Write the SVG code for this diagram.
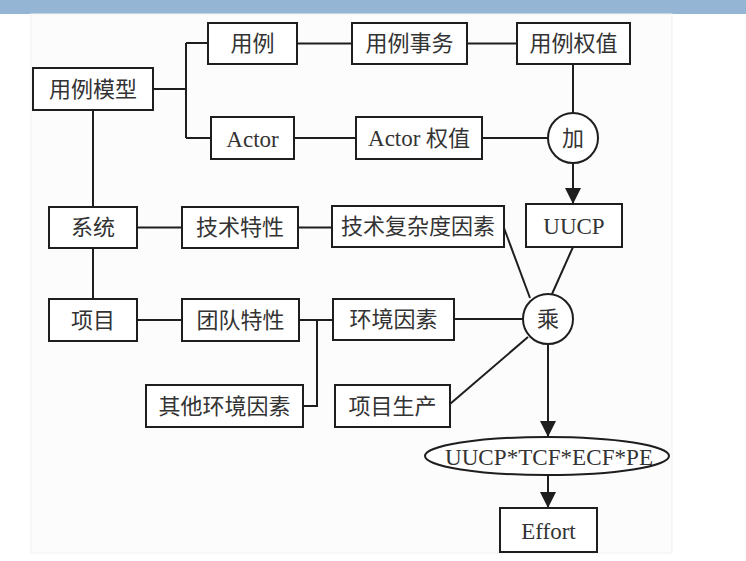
<svg xmlns="http://www.w3.org/2000/svg" width="746" height="561" viewBox="0 0 746 561">
  <style>
    .box { fill: #ffffff; stroke: #1e1e1e; stroke-width: 2; }
    .ring { fill: #ffffff; stroke: #1e1e1e; stroke-width: 2; }
    .wire { fill: none; stroke: #1e1e1e; stroke-width: 2; }
    .lbl { font-family: "Liberation Serif", "Noto Sans CJK SC", serif; font-size: 22px; fill: #333333; text-anchor: middle; dominant-baseline: central; }
    .latin { font-size: 23px; }
  </style>
  <defs>
    <marker id="arrow" viewBox="0 0 16 16" refX="16" refY="8" markerWidth="16" markerHeight="16" markerUnits="userSpaceOnUse" orient="auto">
      <path d="M0,0 L16,8 L0,16 Z" fill="#1e1e1e"/>
    </marker>
  </defs>

  <!-- page background -->
  <rect x="0" y="0" width="746" height="561" fill="#ffffff"/>
  <rect x="0" y="0" width="746" height="14" fill="#94b6d4"/>
  <rect x="31" y="14" width="641" height="539" fill="#fcfcfc" stroke="#f1f1f1" stroke-width="1"/>

  <!-- connectors -->
  <g id="connectors">
    <path class="wire" d="M153,89 H186 M186,43 V138 M186,43 H208 M186,138 H211"/>
    <path class="wire" d="M297,43.5 H352"/>
    <path class="wire" d="M467,43.5 H517"/>
    <path class="wire" d="M573,64 V113"/>
    <path class="wire" d="M294,138 H356"/>
    <path class="wire" d="M482,138 H548"/>
    <path class="wire" d="M573,163 V204" marker-end="url(#arrow)"/>
    <path class="wire" d="M93,110 V207"/>
    <path class="wire" d="M93,248 V299"/>
    <path class="wire" d="M137,227.5 H182"/>
    <path class="wire" d="M298,227.5 H332"/>
    <path class="wire" d="M504,228 L530,298"/>
    <path class="wire" d="M573,247 L552,294"/>
    <path class="wire" d="M137,320 H182"/>
    <path class="wire" d="M299,320 H333 M317,320 V406 H303"/>
    <path class="wire" d="M454,319 H523"/>
    <path class="wire" d="M450,404 L528,337"/>
    <path class="wire" d="M548,344 V437" marker-end="url(#arrow)"/>
    <path class="wire" d="M548,475 V508" marker-end="url(#arrow)"/>
  </g>

  <!-- nodes -->
  <g id="use-case-model">
    <rect class="box" x="33" y="68" width="120" height="42"/>
    <text class="lbl" x="93" y="89">用例模型</text>
  </g>
  <g id="use-case">
    <rect class="box" x="208" y="23" width="89" height="41"/>
    <text class="lbl" x="252.5" y="43.5">用例</text>
  </g>
  <g id="use-case-transaction">
    <rect class="box" x="352" y="23" width="115" height="41"/>
    <text class="lbl" x="409.5" y="43.5">用例事务</text>
  </g>
  <g id="use-case-weight">
    <rect class="box" x="517" y="23" width="113" height="41"/>
    <text class="lbl" x="573.5" y="43.5">用例权值</text>
  </g>
  <g id="actor">
    <rect class="box" x="211" y="117" width="83" height="42"/>
    <text class="lbl latin" x="252.5" y="139">Actor</text>
  </g>
  <g id="actor-weight">
    <rect class="box" x="356" y="117" width="126" height="42"/>
    <text class="lbl" x="419" y="138"><tspan class="latin">Actor</tspan> 权值</text>
  </g>
  <g id="add">
    <circle class="ring" cx="573" cy="138" r="25"/>
    <text class="lbl" x="573" y="138">加</text>
  </g>
  <g id="uucp">
    <rect class="box" x="526" y="204" width="96" height="43"/>
    <text class="lbl latin" x="574" y="226.5">UUCP</text>
  </g>
  <g id="system">
    <rect class="box" x="49" y="207" width="88" height="41"/>
    <text class="lbl" x="93" y="227.5">系统</text>
  </g>
  <g id="tech-traits">
    <rect class="box" x="182" y="207" width="116" height="41"/>
    <text class="lbl" x="240" y="227.5">技术特性</text>
  </g>
  <g id="tech-complexity">
    <rect class="box" x="332" y="206" width="172" height="41"/>
    <text class="lbl" x="418" y="226.5">技术复杂度因素</text>
  </g>
  <g id="project">
    <rect class="box" x="49" y="299" width="88" height="42"/>
    <text class="lbl" x="93" y="320">项目</text>
  </g>
  <g id="team-traits">
    <rect class="box" x="182" y="299" width="117" height="42"/>
    <text class="lbl" x="240.5" y="320">团队特性</text>
  </g>
  <g id="env-factors">
    <rect class="box" x="333" y="299" width="121" height="41"/>
    <text class="lbl" x="393.5" y="319.5">环境因素</text>
  </g>
  <g id="other-env-factors">
    <rect class="box" x="146" y="385" width="157" height="42"/>
    <text class="lbl" x="224.5" y="406">其他环境因素</text>
  </g>
  <g id="productivity">
    <rect class="box" x="335" y="385" width="115" height="42"/>
    <text class="lbl" x="392.5" y="406">项目生产</text>
  </g>
  <g id="multiply">
    <circle class="ring" cx="548" cy="319" r="25"/>
    <text class="lbl" x="548" y="319">乘</text>
  </g>
  <g id="formula">
    <ellipse class="ring" cx="547" cy="456" rx="122" ry="19"/>
    <text class="lbl latin" x="549" y="457" textLength="208" lengthAdjust="spacingAndGlyphs">UUCP*TCF*ECF*PE</text>
  </g>
  <g id="effort">
    <rect class="box" x="500" y="508" width="97" height="44"/>
    <text class="lbl latin" x="548.5" y="531">Effort</text>
  </g>
</svg>
